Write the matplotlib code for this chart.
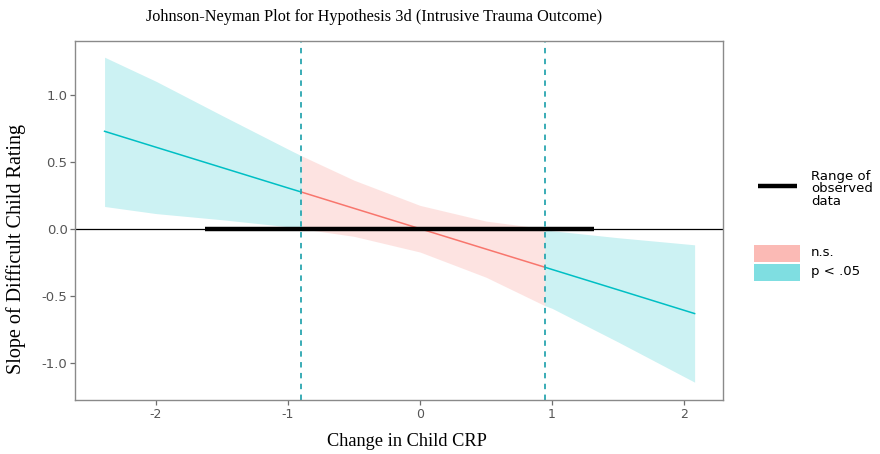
import matplotlib
matplotlib.use("Agg")
import matplotlib.pyplot as plt
from matplotlib.patches import Rectangle
from matplotlib.lines import Line2D
import numpy as np

plt.rcParams["axes.unicode_minus"] = False

# conditional slope of difficult child rating across change in child CRP
crp = [-2.39, -2.0, -1.5, -1.0, -0.90, -0.5, 0.0, 0.5, 0.945, 1.0, 1.5, 2.08]
slope = [0.727, 0.608, 0.456, 0.304, 0.274, 0.152, 0.0, -0.152, -0.287, -0.304, -0.456, -0.633]
ci_hi = [1.28, 1.10, 0.845, 0.594, 0.545, 0.362, 0.174, 0.057, 0.0, -0.015, -0.067, -0.12]
ci_lo = [0.166, 0.113, 0.067, 0.015, 0.0, -0.057, -0.174, -0.362, -0.574, -0.594, -0.845, -1.145]
jn_points = [-0.90, 0.945]
observed_range = [-1.63, 1.32]

C_NS, C_SIG = "#F8766D", "#00BFC4"

x = np.array(crp); y = np.array(slope)
hi = np.array(ci_hi); lo = np.array(ci_lo)
i_lo = crp.index(jn_points[0]); i_hi = crp.index(jn_points[1])
segs = [(slice(0, i_lo + 1), C_SIG), (slice(i_lo, i_hi + 1), C_NS), (slice(i_hi, None), C_SIG)]

fig = plt.figure(figsize=(8.8, 4.54), dpi=100)
ax = fig.add_axes([75 / 880, 1 - 400 / 454, 648 / 880, 359.3 / 454])

for s, c in segs:
    ax.fill_between(x[s], lo[s], hi[s], color=c, alpha=0.2, lw=0)
for s, c in segs:
    ax.plot(x[s], y[s], color=c, lw=1.1)

ax.axhline(0, color="black", lw=0.9)
ax.plot(observed_range, [0, 0], color="black", lw=3.2, solid_capstyle="butt")
for v in jn_points:
    ax.axvline(v, color="#2aa6b0", lw=1.3, ls=(0, (3, 3)))

ax.set_xlim(-2.614, 2.295)
ax.set_ylim(-1.278, 1.403)
ax.set_xticks([-2, -1, 0, 1, 2])
ax.set_yticks([-1.0, -0.5, 0.0, 0.5, 1.0])
ax.set_yticklabels(["-1.0", "-0.5", "0.0", "0.5", "1.0"])
ax.tick_params(colors="#6e6e6e", labelcolor="#555555", labelsize=9.5, length=3.6, width=0.9,
               pad=1.8, labelfontfamily="DejaVu Sans")
ax.tick_params(axis="x", labelsize=9)
for sp in ax.spines.values():
    sp.set_color("#8a8a8a"); sp.set_linewidth(1.0)

serif = "Liberation Serif"
fig.text(374.5 / 880, 1 - 17 / 454, "Johnson-Neyman Plot for Hypothesis 3d (Intrusive Trauma Outcome)",
         ha="center", va="center", family=serif, fontsize=11.7)
fig.text(406.5 / 880, 1 - 441 / 454, "Change in Child CRP", ha="center", va="center",
         family=serif, fontsize=13.2)
fig.text(16.5 / 880, 1 - 248.5 / 454, "Slope of Difficult Child Rating", ha="center", va="center",
         rotation=90, family=serif, fontsize=14.5)

# legend, drawn in figure pixels
def fx(px): return px / 880
def fy(py): return 1 - py / 454

sans = "DejaVu Sans"
fig.add_artist(Line2D([fx(758), fx(797)], [fy(186), fy(186)], color="black", lw=3.2,
                      solid_capstyle="butt"))
fig.text(fx(811), fy(189), "Range of\nobserved\ndata", ha="left", va="center",
         family=sans, fontsize=9.5, linespacing=0.92)
for top, c, lbl in [(245, C_NS, "n.s."), (264, C_SIG, "p < .05")]:
    fig.add_artist(Rectangle((fx(754), fy(top + 16.5)), 46 / 880, 16.5 / 454,
                             transform=fig.transFigure, color=c, alpha=0.5, lw=0))
    fig.text(fx(811), fy(top + 8), lbl, ha="left", va="center", family=sans, fontsize=9.5)

fig.savefig("out.png", dpi=100)
